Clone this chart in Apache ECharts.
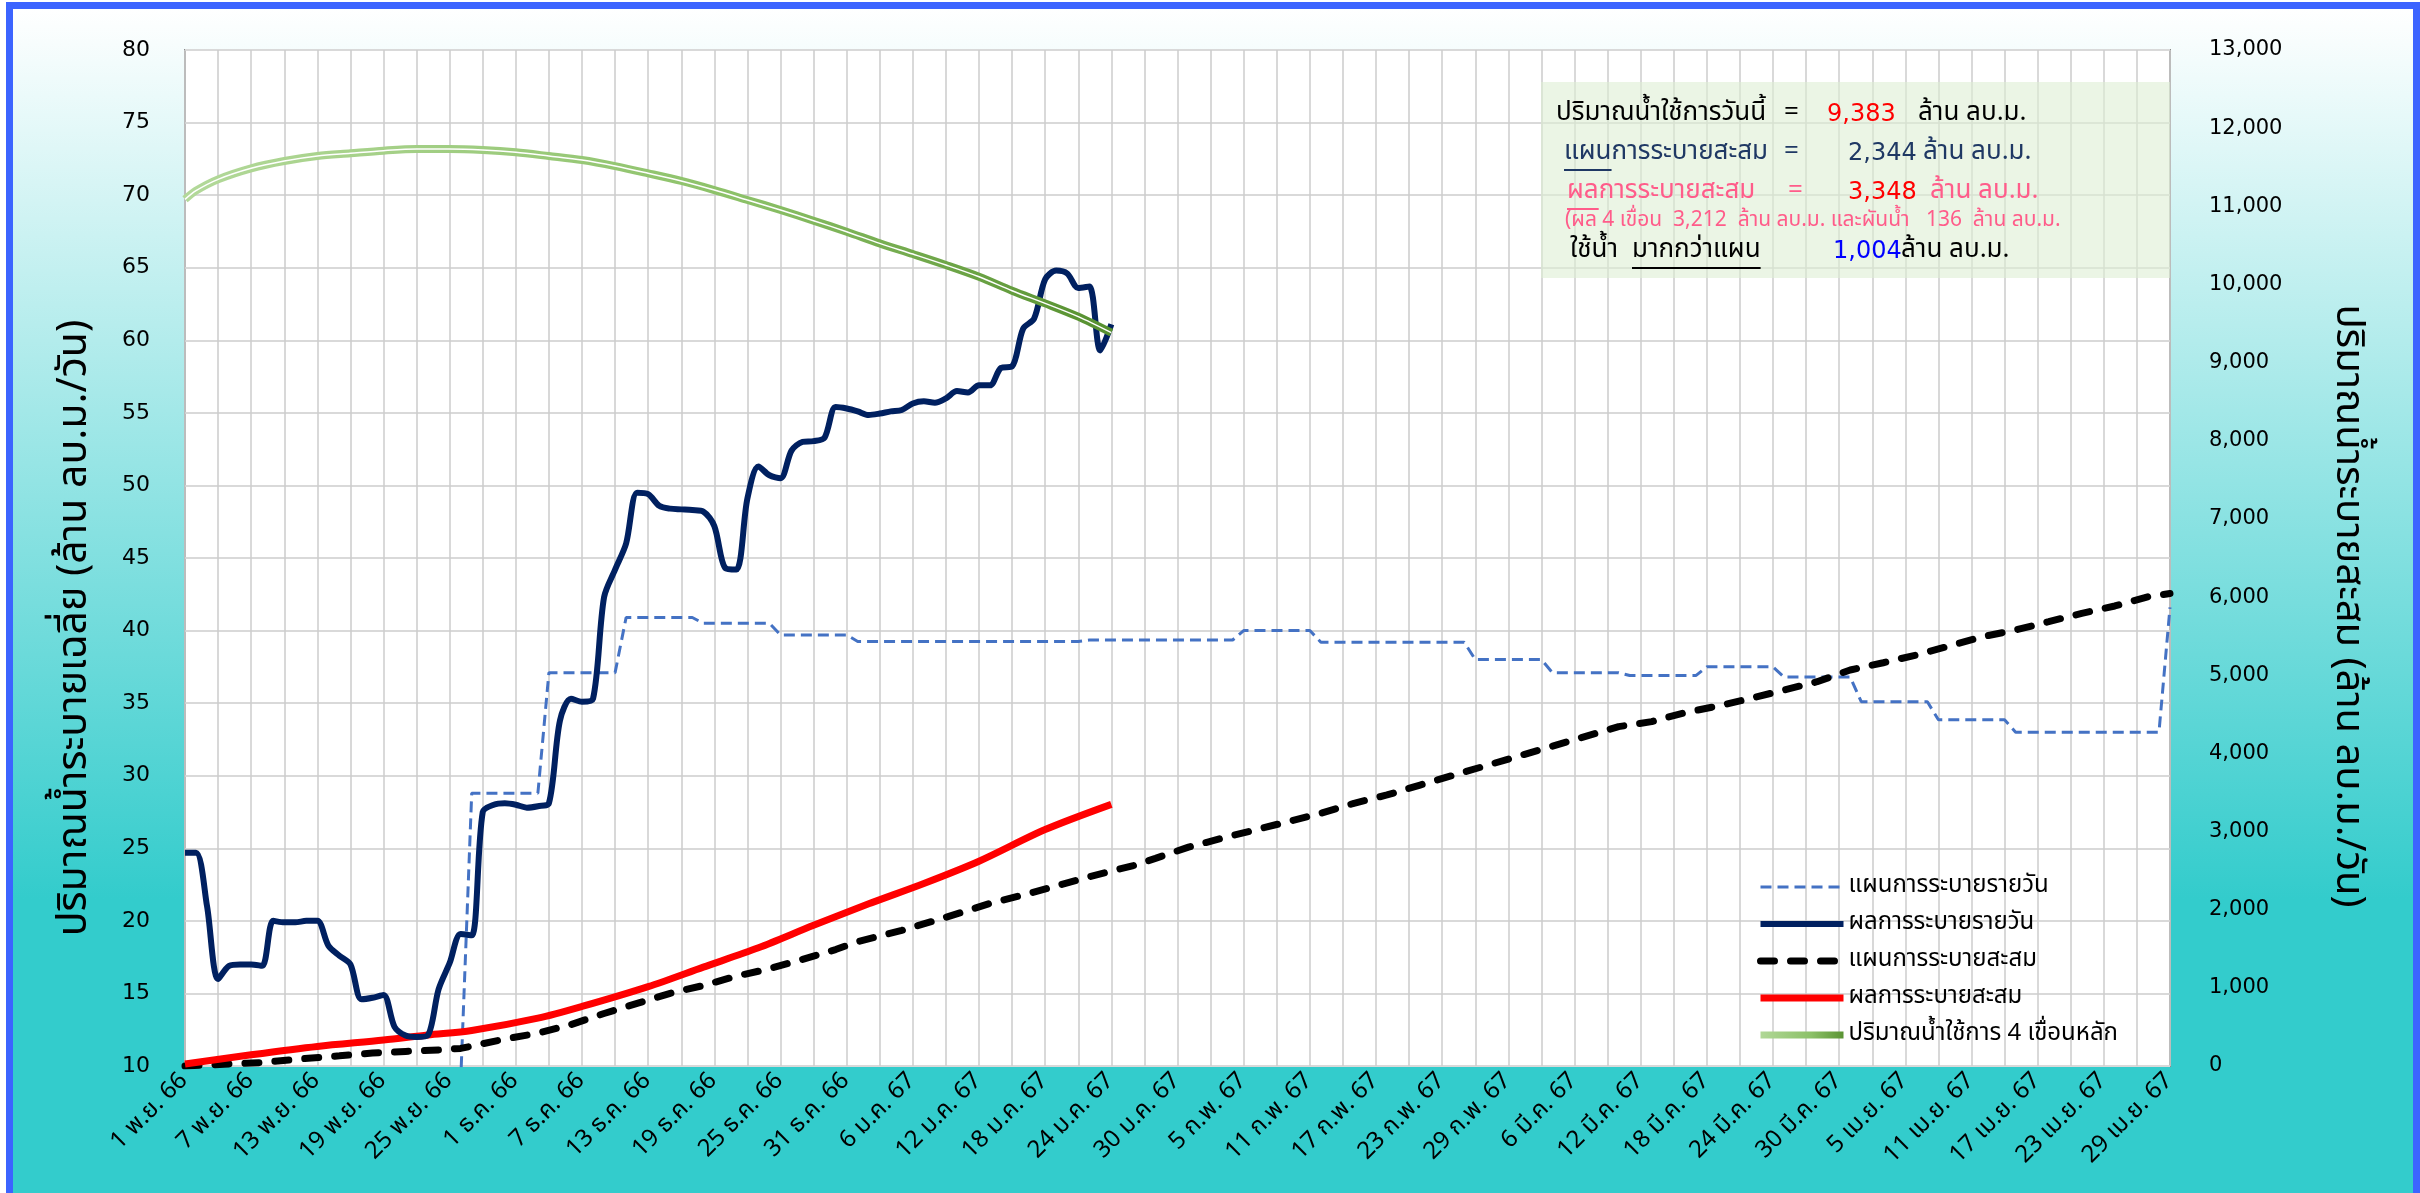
<!DOCTYPE html>
<html>
<head>
<meta charset="utf-8">
<script src="https://cdn.jsdelivr.net/npm/echarts@6/dist/echarts.min.js"></script>
<style>
  html, body { margin: 0; padding: 0; background: #ffffff; }
  #wrap { position: relative; width: 2420px; height: 1193px; overflow: hidden; background: #ffffff; }
  #frame {
    position: absolute; left: 6px; top: 2px; width: 2414px; height: 1200px;
    box-sizing: border-box; border: 7px solid #3c64ff;
    background: linear-gradient(to bottom, #ffffff 0px, #33cccc 890px, #33cccc 100%);
  }
  #chart { position: absolute; left: 0; top: 0; width: 2420px; height: 1193px; }
</style>
</head>
<body>
<div id="wrap"><div id="frame"></div><div id="chart"></div></div>
<script>
// ---- x axis: day offset from 1 Nov 2566, a label every 6 days ----
const xTickLabels = [
  '1 พ.ย. 66', '7 พ.ย. 66', '13 พ.ย. 66', '19 พ.ย. 66', '25 พ.ย. 66',
  '1 ธ.ค. 66', '7 ธ.ค. 66', '13 ธ.ค. 66', '19 ธ.ค. 66', '25 ธ.ค. 66', '31 ธ.ค. 66',
  '6 ม.ค. 67', '12 ม.ค. 67', '18 ม.ค. 67', '24 ม.ค. 67', '30 ม.ค. 67',
  '5 ก.พ. 67', '11 ก.พ. 67', '17 ก.พ. 67', '23 ก.พ. 67', '29 ก.พ. 67',
  '6 มี.ค. 67', '12 มี.ค. 67', '18 มี.ค. 67', '24 มี.ค. 67', '30 มี.ค. 67',
  '5 เม.ย. 67', '11 เม.ย. 67', '17 เม.ย. 67', '23 เม.ย. 67', '29 เม.ย. 67'
];

// ---- daily release plan (million m3/day), vertices of the weekly steps ----
const planDailyDays = [0, 25, 26, 32, 33, 39, 40, 46, 47, 53, 54, 60, 61, 81, 82, 95, 96, 102,
  103, 116, 117, 123, 124, 130, 131, 137, 138, 144, 145, 151, 152, 158, 159, 165, 166, 179, 180];
const planDailyValues = [9.0, 9.0, 28.8, 28.8, 37.1, 37.1, 40.9, 40.9, 40.5, 40.5, 39.7, 39.7,
  39.25, 39.25, 39.35, 39.35, 40.0, 40.0, 39.2, 39.2, 38.0, 38.0, 37.1, 37.1, 36.9, 36.9,
  37.5, 37.5, 36.8, 36.8, 35.1, 35.1, 33.85, 33.85, 33.0, 33.0, 41.6];

// ---- actual daily release (million m3/day), one value per day from 1 Nov ----
const actualDaily = [
  24.7, 24.7, 21.0, 16.0, 16.9, 17.0, 17.0, 16.9, 20.0, 19.9,
  19.9, 20.0, 20.0, 18.3, 17.6, 17.0, 14.6, 14.7, 14.9, 12.7,
  12.1, 12.0, 12.1, 15.3, 17.1, 19.1, 19.0, 27.5, 28.0, 28.1,
  28.0, 27.8, 27.9, 28.1, 33.8, 35.3, 35.1, 35.3, 42.3, 44.2,
  46.0, 49.5, 49.4, 48.6, 48.4, 48.35, 48.3, 48.2, 47.2, 44.3,
  44.2, 49.1, 51.3, 50.7, 50.5, 52.4, 53.0, 53.05, 53.3, 55.4,
  55.3, 55.1, 54.85, 54.95, 55.1, 55.2, 55.65, 55.8, 55.7, 56.0,
  56.5, 56.4, 56.9, 56.9, 58.1, 58.2, 60.8, 61.5, 64.2, 64.8,
  64.6, 63.6, 63.7, 59.3, 61.1
];

// ---- cumulative release plan (million m3) ----
const planCumDays = [0, 7, 10, 14, 17, 20, 23, 25, 29, 32, 35, 38, 41, 44, 47, 50, 53, 56, 59, 61,
  65, 68, 71, 73, 76, 79, 82, 86, 88, 91, 94, 97, 100, 103, 106, 109, 112, 130, 133, 136, 139,
  142, 145, 148, 151, 154, 157, 160, 163, 166, 169, 172, 175, 178, 180];
const planCumValues = [0, 45, 85, 130, 165, 187, 205, 225, 345, 420, 530, 672, 802, 930, 1030,
  1150, 1245, 1365, 1490, 1591, 1735, 1860, 1990, 2081, 2188, 2303, 2422, 2565, 2657, 2800,
  2913, 3020, 3126, 3233, 3361, 3468, 3595, 4342, 4406, 4521, 4606, 4704, 4811, 4917, 5067,
  5160, 5259, 5374, 5493, 5579, 5685, 5792, 5886, 6005, 6045];

// ---- actual cumulative release (million m3) ----
const actualCumDays = [0, 6, 12, 18, 22, 26, 32, 36, 42, 47, 52, 57, 62, 67, 72, 78, 84];
const actualCumValues = [25, 143, 250, 332, 397, 455, 612, 762, 1016, 1265, 1512, 1800, 2075,
  2335, 2620, 3025, 3348];

// ---- usable storage of the 4 main dams (million m3) ----
const storageDays = [0, 1, 3, 6, 9, 12, 15, 18, 21, 24, 27, 30, 33, 36, 39, 42, 45, 48, 51, 54,
  57, 60, 63, 66, 69, 72, 75, 78, 81, 84];
const storageValues = [11089, 11200, 11345, 11486, 11579, 11643, 11678, 11712, 11733, 11733,
  11720, 11691, 11643, 11592, 11515, 11422, 11324, 11208, 11081, 10953, 10816, 10675, 10526,
  10389, 10249, 10099, 9920, 9758, 9588, 9383];

// ---- today's summary figures (million m3) ----
const usableToday = 9383;
const planCumToday = 2344;
const actualCumToday = 3348;
const fourDamsCum = 3212;
const diversionCum = 136;
const abovePlan = 1004;

const seriesNames = ['แผนการระบายรายวัน', 'ผลการระบายรายวัน', 'แผนการระบายสะสม',
  'ผลการระบายสะสม', 'ปริมาณน้ำใช้การ 4 เขื่อนหลัก'];
const legendLineWidths = [3, 6, 7, 7, 7];

const THAI = "'Noto Sans Thai', 'Noto Sans Thai UI', Tahoma, 'DejaVu Sans', sans-serif";
const NUM = "'DejaVu Sans', 'Noto Sans Thai', sans-serif";

const pairs = (xs, ys) => xs.map((x, i) => [x, ys[i]]);
const fmt = n => n.toLocaleString('en-US');

const mctx = document.createElement('canvas').getContext('2d');
function textWidth(t, font) { mctx.font = font; return mctx.measureText(t).width; }

// summary box text pieces
const fBody = `26px ${THAI}`;
const fNum = `24px ${NUM}`;
const fSmall = `21px ${THAI}`;
const pink = '#ff5c8a';
const navy = '#1f3864';

function txt(x, y, text, font, fill) {
  return { type: 'text', x: x, y: y, z: 110,
    style: { text: text, font: font, fill: fill, align: 'left', verticalAlign: 'middle' } };
}
function underline(x, y, text, font, color) {
  const w = textWidth(text, font);
  return { type: 'line', z: 110, shape: { x1: x, y1: y, x2: x + w, y2: y },
    style: { stroke: color, lineWidth: 2 } };
}

const boxGraphics = [
  { type: 'rect', z: 100, shape: { x: 1541, y: 82, width: 629, height: 196 },
    style: { fill: 'rgba(222,238,212,0.6)' } },
  txt(1556, 115, 'ปริมาณน้ำใช้การวันนี้', fBody, '#000000'),
  txt(1784, 115, '=', fBody, '#000000'),
  txt(1827, 115, fmt(usableToday), fNum, '#ff0000'),
  txt(1918, 115, 'ล้าน ลบ.ม.', fBody, '#000000'),

  txt(1564, 154, 'แผน', fBody, navy),
  txt(1564 + textWidth('แผน', fBody), 154, 'การระบายสะสม', fBody, navy),
  txt(1784, 154, '=', fBody, navy),
  underline(1564, 170, 'แผน', fBody, navy),
  txt(1848, 154, fmt(planCumToday), fNum, navy),
  txt(1923, 154, 'ล้าน ลบ.ม.', fBody, navy),

  txt(1567, 193, 'ผล', fBody, pink),
  txt(1567 + textWidth('ผล', fBody), 193, 'การระบายสะสม', fBody, pink),
  txt(1788, 193, '=', fBody, pink),
  underline(1567, 209, 'ผล', fBody, pink),
  txt(1848, 193, fmt(actualCumToday), fNum, '#ff0000'),
  txt(1930, 193, 'ล้าน ลบ.ม.', fBody, pink),

  txt(1565, 222, `(ผล 4 เขื่อน  ${fmt(fourDamsCum)}  ล้าน ลบ.ม. และผันน้ำ   ${fmt(diversionCum)}  ล้าน ลบ.ม.`, fSmall, pink),

  txt(1570, 252, 'ใช้น้ำ', fBody, '#000000'),
  txt(1632, 252, 'มากกว่าแผน', fBody, '#000000'),
  underline(1632, 268, 'มากกว่าแผน', fBody, '#000000'),
  txt(1833, 252, fmt(abovePlan), fNum, '#0000ff'),
  txt(1901, 252, 'ล้าน ลบ.ม.', fBody, '#000000')
];

const axisTitles = [
  { type: 'text', x: 78, y: 628, rotation: Math.PI / 2, z: 100,
    style: { text: 'ปริมาณน้ำระบายเฉลี่ย (ล้าน ลบ.ม./วัน)', font: `41px ${THAI}`, fill: '#000000',
      align: 'center', verticalAlign: 'middle' } },
  { type: 'text', x: 2345, y: 606, rotation: -Math.PI / 2, z: 100,
    style: { text: 'ปริมาณน้ำระบายสะสม (ล้าน ลบ.ม./วัน)', font: `40px ${THAI}`, fill: '#000000',
      align: 'center', verticalAlign: 'middle' } }
];

const chart = echarts.init(document.getElementById('chart'), null, { renderer: 'canvas' });

const greenGradient = new echarts.graphic.LinearGradient(0, 0, 1, 0, [
  { offset: 0, color: '#b3d99a' },
  { offset: 0.6, color: '#8cc168' },
  { offset: 1, color: '#558f2e' }
]);

chart.setOption({
  backgroundColor: 'transparent',
  animation: false,
  grid: { left: 185, right: 250, top: 50, bottom: 127, show: true,
    backgroundColor: '#ffffff', borderColor: '#8c8c8c', borderWidth: 2 },
  legend: {
    data: seriesNames.map((n, i) => ({ name: n, lineStyle: { width: legendLineWidths[i] } })),
    orient: 'vertical', left: 1752, top: 870,
    itemWidth: 83, itemHeight: 12, itemGap: 13,
    itemStyle: { opacity: 0, borderWidth: 0 },
    textStyle: { fontFamily: THAI, fontSize: 24, color: '#000000' }
  },
  xAxis: {
    type: 'value', min: 0, max: 180, interval: 6,
    axisLine: { show: false }, axisTick: { show: false },
    minorTick: { show: true, splitNumber: 2, length: 0, lineStyle: { opacity: 0 } },
    splitLine: { show: true, lineStyle: { color: '#cccccc', width: 1.5 } },
    minorSplitLine: { show: true, lineStyle: { color: '#cccccc', width: 1.5 } },
    axisLabel: { formatter: v => xTickLabels[Math.round(v / 6)], rotate: 45, margin: 12,
      fontFamily: THAI, fontSize: 24, color: '#000000' }
  },
  yAxis: [
    { type: 'value', min: 10, max: 80, interval: 5, position: 'left',
      axisLine: { show: false }, axisTick: { show: false },
      splitLine: { show: true, lineStyle: { color: '#d9d9d9', width: 2 } },
      axisLabel: { margin: 35, fontFamily: NUM, fontSize: 22, color: '#000000' } },
    { type: 'value', min: 0, max: 13000, interval: 1000, position: 'right',
      axisLine: { show: false }, axisTick: { show: false }, splitLine: { show: false },
      axisLabel: { margin: 39, align: 'left', fontFamily: NUM, fontSize: 21, color: '#000000',
        formatter: v => fmt(v) } }
  ],
  series: [
    { name: seriesNames[0], type: 'line', yAxisIndex: 0, data: pairs(planDailyDays, planDailyValues),
      symbol: 'none', z: 3, itemStyle: { color: '#4472c4' },
      lineStyle: { color: '#4472c4', width: 3, type: [11, 6] } },
    { name: seriesNames[1], type: 'line', yAxisIndex: 0, data: actualDaily.map((v, i) => [i, v]),
      symbol: 'none', smooth: 0.3, z: 6, itemStyle: { color: '#002060' },
      lineStyle: { color: '#002060', width: 6 } },
    { name: seriesNames[2], type: 'line', yAxisIndex: 1, data: pairs(planCumDays, planCumValues),
      symbol: 'none', z: 4, itemStyle: { color: '#000000' },
      lineStyle: { color: '#000000', width: 7, type: [14, 16], cap: 'round' } },
    { name: seriesNames[3], type: 'line', yAxisIndex: 1, data: pairs(actualCumDays, actualCumValues),
      symbol: 'none', smooth: 0.3, z: 5, itemStyle: { color: '#ff0000' },
      lineStyle: { color: '#ff0000', width: 7 } },
    { name: seriesNames[4], type: 'line', yAxisIndex: 1, data: pairs(storageDays, storageValues),
      symbol: 'none', smooth: 0.3, z: 7, itemStyle: { color: '#8cc168' },
      lineStyle: { color: greenGradient, width: 8 } },
    { name: seriesNames[4], type: 'line', yAxisIndex: 1, data: pairs(storageDays, storageValues),
      symbol: 'none', smooth: 0.3, z: 8, silent: true, itemStyle: { color: '#ffffff' },
      lineStyle: { color: '#ffffff', width: 1.5 } }
  ],
  graphic: boxGraphics.concat(axisTitles)
});
</script>
</body>
</html>
